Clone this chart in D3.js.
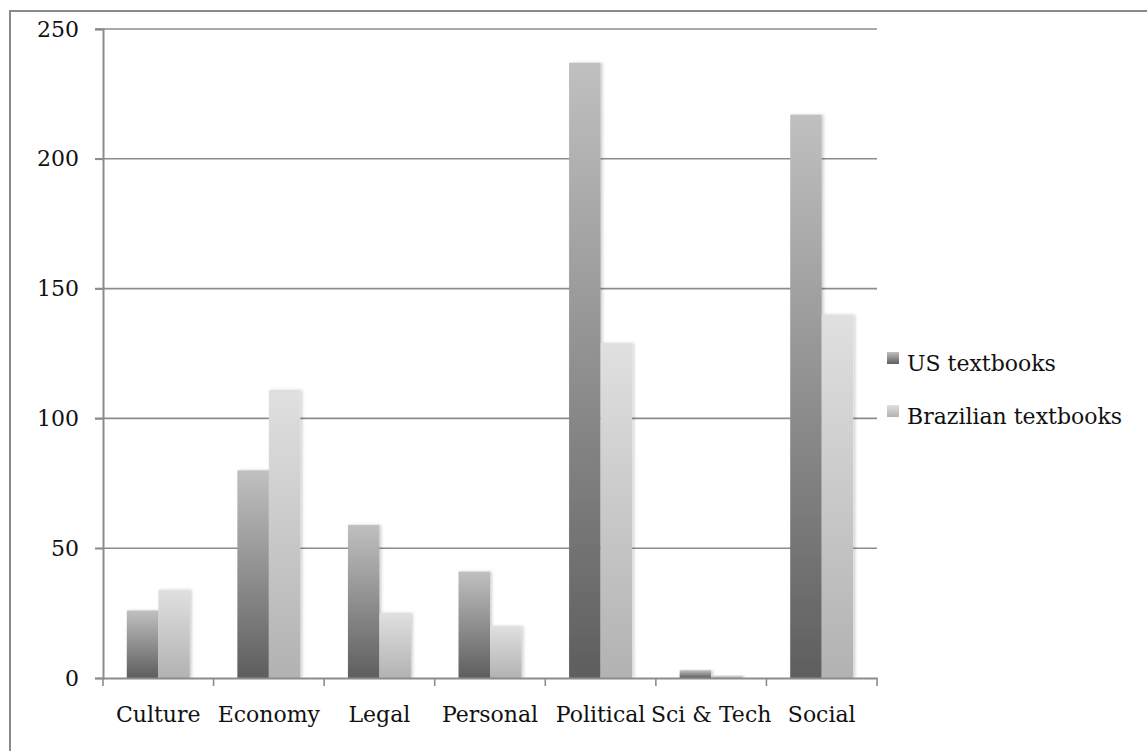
<!DOCTYPE html>
<html>
<head>
<meta charset="utf-8">
<script src="https://cdn.jsdelivr.net/npm/d3@7"></script>
<style>
  html, body { margin: 0; padding: 0; background: #fff; }
  svg { display: block; }
  text { font-family: "DejaVu Serif", serif; fill: #111; }
</style>
</head>
<body>
<svg id="chart" width="1147" height="751"></svg>
<script>
const categories = ["Culture", "Economy", "Legal", "Personal", "Political", "Sci & Tech", "Social"];
const seriesNames = ["US textbooks", "Brazilian textbooks"];
const usValues = [26, 80, 59, 41, 237, 3, 217];
const brValues = [34, 111, 25, 20, 129, 1, 140];
const yTicks = [0, 50, 100, 150, 200, 250];

const svg = d3.select("#chart");
const W = 1147, H = 751;
const plotLeft = 103, plotRight = 877, plotTop = 29, plotBottom = 678;

// outer frame
svg.append("rect").attr("x", 10).attr("y", 11).attr("width", W + 20).attr("height", H + 20)
  .attr("fill", "#fff").attr("stroke", "#8a8a8a").attr("stroke-width", 2);

const defs = svg.append("defs");
const grads = [
  { id: "gUS", bottom: "#5e5e5e", top: "#c0c0c0" },
  { id: "gBR", bottom: "#b2b2b2", top: "#e0e0e0" }
];
grads.forEach(g => {
  const lg = defs.append("linearGradient").attr("id", g.id)
    .attr("x1", 0).attr("y1", 1).attr("x2", 0).attr("y2", 0);
  lg.append("stop").attr("offset", "0%").attr("stop-color", g.bottom);
  lg.append("stop").attr("offset", "100%").attr("stop-color", g.top);
});
const f = defs.append("filter").attr("id", "shadow").attr("x", "-20%").attr("y", "-5%").attr("width", "150%").attr("height", "110%");
f.append("feDropShadow").attr("dx", 2).attr("dy", 0).attr("stdDeviation", 1.5)
  .attr("flood-color", "#000").attr("flood-opacity", 0.18);

const x = d3.scaleBand().domain(categories).range([plotLeft, plotRight]).padding(0);
const xi = d3.scaleBand().domain(seriesNames).range([0, x.bandwidth()]).paddingInner(0).paddingOuter(0.755);
const y = d3.scaleLinear().domain([0, 250]).range([plotBottom, plotTop]);

// gridlines
svg.append("g").selectAll("line").data(yTicks.filter(t => t > 0)).join("line")
  .attr("x1", plotLeft - 8).attr("x2", plotRight)
  .attr("y1", d => y(d)).attr("y2", d => y(d))
  .attr("stroke", "#8c8c8c").attr("stroke-width", 1.6);

// y axis
const yAxis = svg.append("g").attr("transform", `translate(${plotLeft},0)`)
  .call(d3.axisLeft(y).tickValues(yTicks).tickSize(8).tickPadding(16));
yAxis.select(".domain").attr("stroke", "#8c8c8c").attr("stroke-width", 2);
yAxis.selectAll(".tick line").attr("stroke", "#8c8c8c").attr("stroke-width", 1.6);
yAxis.selectAll(".tick text").attr("font-size", 22).attr("font-family", "DejaVu Serif").attr("fill", "#111");

// bars
const data = categories.map((c, i) => ({ cat: c, vals: [usValues[i], brValues[i]] }));
const groups = svg.append("g").selectAll("g").data(data).join("g")
  .attr("transform", d => `translate(${x(d.cat)},0)`);
groups.selectAll("rect").data(d => d.vals.map((v, j) => ({ v, s: seriesNames[j], j }))).join("rect")
  .attr("x", d => xi(d.s))
  .attr("width", xi.bandwidth())
  .attr("y", d => y(d.v))
  .attr("height", d => y(0) - y(d.v))
  .attr("fill", d => `url(#${grads[d.j].id})`)
  .attr("filter", "url(#shadow)");

// x axis
const xAxis = svg.append("g").attr("transform", `translate(0,${plotBottom})`)
  .call(d3.axisBottom(x).tickSize(0).tickPadding(28));
xAxis.select(".domain").attr("stroke", "#8c8c8c").attr("stroke-width", 2);
xAxis.selectAll(".tick text").attr("font-size", 22).attr("font-family", "DejaVu Serif").attr("fill", "#111");
// category boundary ticks
const bounds = categories.map(c => x(c)).concat([plotRight]);
svg.append("g").selectAll("line").data(bounds).join("line")
  .attr("x1", d => d).attr("x2", d => d)
  .attr("y1", plotBottom).attr("y2", plotBottom + 8)
  .attr("stroke", "#8c8c8c").attr("stroke-width", 1.6);

// legend
const legend = svg.append("g").attr("transform", "translate(887,352)");
seriesNames.forEach((s, i) => {
  const g = legend.append("g").attr("transform", `translate(0,${i * 53})`);
  g.append("rect").attr("width", 12).attr("height", 12).attr("fill", `url(#${grads[i].id})`);
  g.append("text").attr("x", 20).attr("y", 19)
    .attr("font-size", 22).text(s);
});
</script>
</body>
</html>
